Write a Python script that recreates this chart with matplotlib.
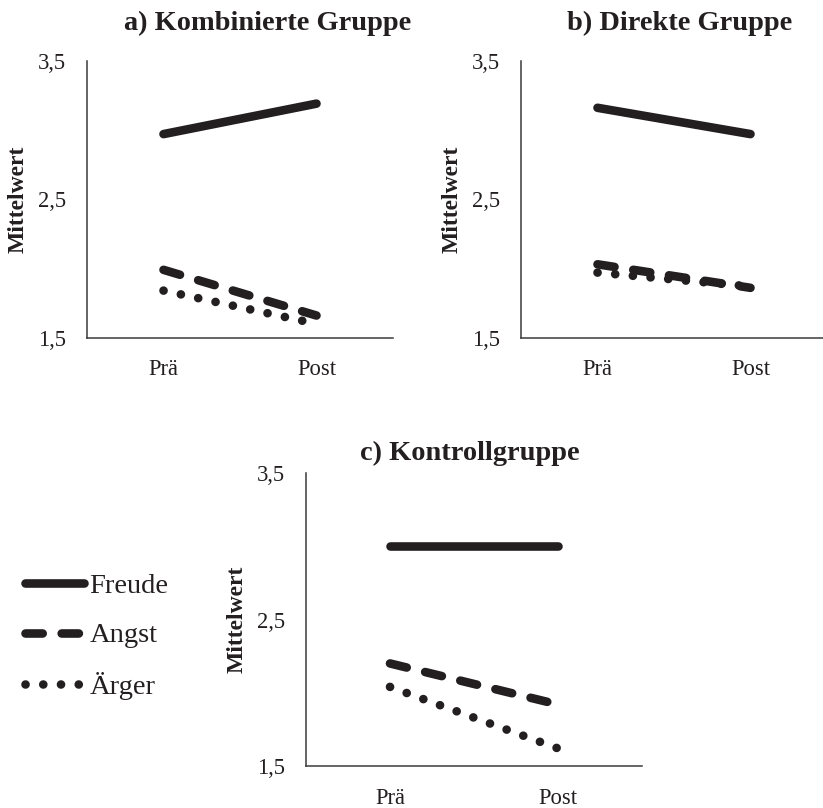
import matplotlib
matplotlib.use("Agg")
import matplotlib.pyplot as plt

plt.rcParams['font.family'] = ['Liberation Serif', 'DejaVu Serif']

W, H = 823, 808

# ---- data ----
zeitpunkte = ["Prä", "Post"]
serien = ["Freude", "Angst", "Ärger"]

kombiniert_freude = [2.97, 3.19]
kombiniert_angst = [1.99, 1.66]
kombiniert_aerger = [1.84, 1.60]

direkt_freude = [3.16, 2.97]
direkt_angst = [2.03, 1.86]
direkt_aerger = [1.97, 1.87]

kontroll_freude = [3.00, 3.00]
kontroll_angst = [2.20, 1.92]
kontroll_aerger = [2.04, 1.62]

y_ticks = [1.5, 2.5, 3.5]
y_ticklabels = ["1,5", "2,5", "3,5"]

titel = ["a) Kombinierte Gruppe", "b) Direkte Gruppe", "c) Kontrollgruppe"]

# ---- style ----
INK = "#231f20"
LW = 6.2
styles = {
    "Freude": dict(linestyle="-", solid_capstyle="round"),
    "Angst": dict(dashes=(2.0, 2.2), dash_capstyle="round"),
    "Ärger": dict(dashes=(0.01, 2.05), dash_capstyle="round"),
}

fig = plt.figure(figsize=(W / 100, H / 100), dpi=100)


def px_rect(left, top, right, bottom):
    return [left / W, 1 - bottom / H, (right - left) / W, (bottom - top) / H]


panels = [
    (px_rect(87, 60.7, 393, 337.7), [kombiniert_freude, kombiniert_angst, kombiniert_aerger], 18.5),
    (px_rect(521, 60.7, 827, 337.7), [direkt_freude, direkt_angst, direkt_aerger], 452.5),
    (px_rect(306, 473, 642, 766), [kontroll_freude, kontroll_angst, kontroll_aerger], 237.5),
]

axes = []
for rect, werte, ylab_x in panels:
    ax = fig.add_axes(rect)
    x = list(range(len(zeitpunkte)))
    for name, vals in zip(serien, werte):
        ax.plot(x, vals, color=INK, lw=LW, label=name, **styles[name])
    ax.set_xlim(-0.5, 1.5)
    ax.set_ylim(1.5, 3.5)
    ax.set_xticks(x)
    ax.set_xticklabels(zeitpunkte)
    ax.set_yticks(y_ticks)
    ax.set_yticklabels(y_ticklabels)
    ax.tick_params(axis="both", length=0, labelsize=16.3, colors=INK)
    ax.tick_params(axis="x", pad=15.5)
    ax.tick_params(axis="y", pad=15)
    for s in ["top", "right"]:
        ax.spines[s].set_visible(False)
    for s in ["left", "bottom"]:
        ax.spines[s].set_color("#3a3a3a")
        ax.spines[s].set_linewidth(1.1)
    ax.set_ylabel("Mittelwert", fontsize=17, fontweight="bold", color=INK, va="center")
    left_px = rect[0] * W
    width_px = rect[2] * W
    ax.yaxis.set_label_coords((ylab_x - left_px) / width_px, 0.5)
    ax.patch.set_alpha(0)
    axes.append(ax)

# titles
title_pos = [(268, 30), (680, 30), (470, 460)]
for t, (tx, ty) in zip(titel, title_pos):
    fig.text(tx / W, 1 - ty / H, t, ha="center", va="baseline",
             fontsize=20.4, fontweight="bold", color=INK)

# legend
handles, labels = axes[2].get_legend_handles_labels()
fig.legend(handles, labels, loc="upper left",
           bbox_to_anchor=(25.3 / W, 1 - 573 / H),
           frameon=False, fontsize=20.5, handlelength=2.05,
           handletextpad=0.2, labelspacing=0.83,
           borderpad=0, borderaxespad=0, labelcolor=INK)

fig.savefig("out.png", dpi=100)
